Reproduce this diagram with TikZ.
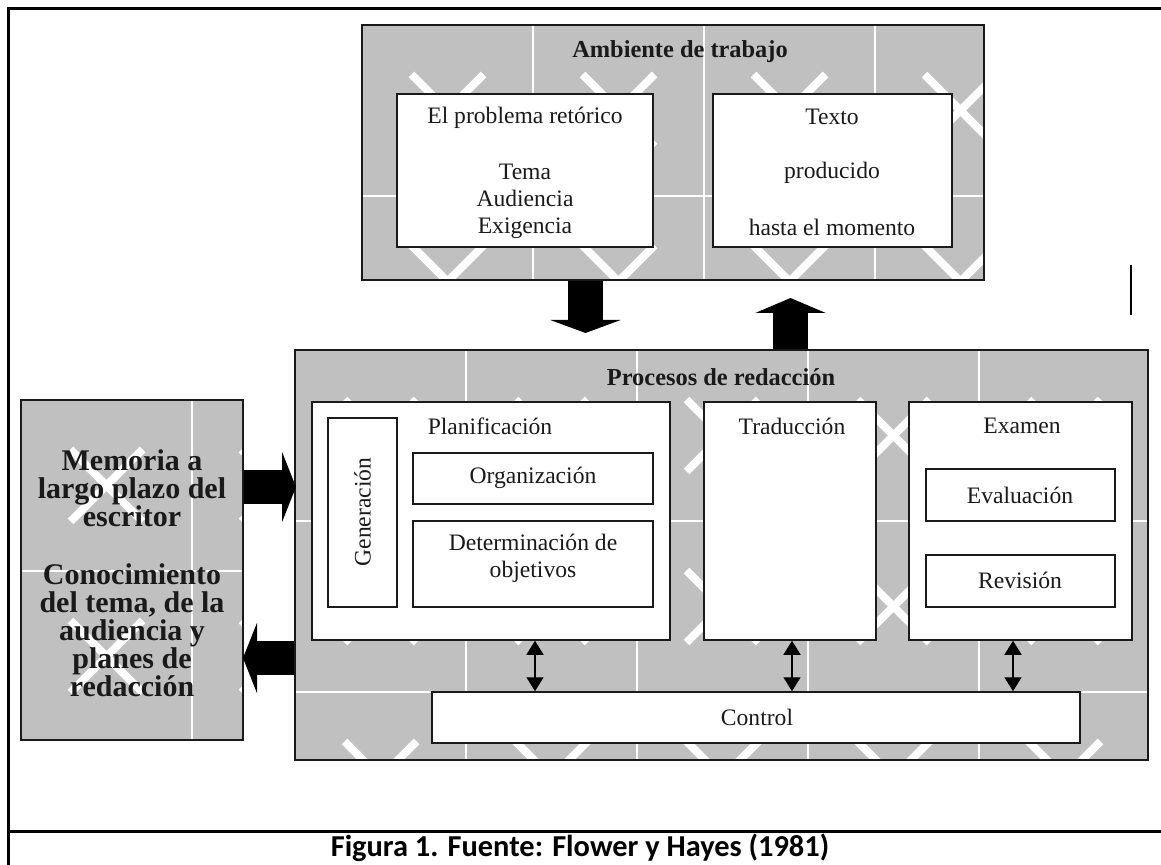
\documentclass[tikz,border=0pt]{standalone}
\usepackage{fontspec}
\setmainfont{Liberation Serif}
\newfontfamily\capfont{Carlito}
\usetikzlibrary{arrows.meta,fit,calc}
\definecolor{patgray}{HTML}{C0C0C0}
\definecolor{ink}{HTML}{1A1A1A}
\newcommand{\patfill}[4]{%
 \begin{scope}
 \clip (#1,#2) rectangle (#3,#4);
 \fill[patgray] (#1,#2) rectangle (#3,#4);
 \foreach \i in {0,...,5}{
   \foreach \j in {0,...,2}{
     \pgfmathsetmacro\cx{#1+171*\i+85.5}
     \pgfmathsetmacro\cy{#2+171*\j+85.5}
     \draw[xline] (\cx-36,\cy-36) -- (\cx+36,\cy+36);
     \draw[xline] (\cx-36,\cy+36) -- (\cx+36,\cy-36);
   }
   \draw[gline] ({#1+171*\i},#2) -- ({#1+171*\i},#4);
 }
 \foreach \j in {1,2}{\draw[gline] (#1,{#2+171*\j}) -- (#3,{#2+171*\j});}
 \end{scope}}
\begin{document}
\begin{tikzpicture}[x=0.5pt,y=-0.5pt,
  wbox/.style={draw=ink, line width=0.75pt, fill=white, inner sep=0pt},
  pbox/.style={draw=ink, line width=0.75pt, inner sep=0pt},
  xline/.style={white, line width=4pt},
  gline/.style={white, line width=1pt},
  txt/.style={inner sep=0pt, text=ink, font=\fontsize{11.8}{13.5}\selectfont, align=center},
  ttl/.style={inner sep=0pt, text=ink, font=\fontsize{12.2}{14}\selectfont\bfseries},
  ltxt/.style={inner sep=0pt, text=ink, font=\fontsize{15}{14}\selectfont\bfseries, align=center},
  blockdown/.style={line width=17.5pt, draw=black, -{Triangle[length=6.5pt,width=35pt]}},
  blockup/.style={line width=17.5pt, draw=black, -{Triangle[length=7.5pt,width=35pt]}},
  blockside/.style={line width=17pt, draw=black, -{Triangle[length=7pt,width=35pt]}},
  dbl/.style={line width=0.7pt, draw=black, {Triangle[length=7pt,width=8.5pt]}-{Triangle[length=7pt,width=8.5pt]}},
  frame/.style={line width=1.5pt, draw=black}]

\useasboundingbox (0,0) rectangle (1161,865);

% outer frame
\coordinate (fTL) at (8,9); \coordinate (fTR) at (1161,9);
\coordinate (fBL) at (8,865);
\coordinate (cL) at (8,831); \coordinate (cR) at (1161,831);
\draw[frame] (fTR) -- (fTL) -- (fBL);
\draw[frame] (cL) -- (cR);

% ---------- Ambiente de trabajo ----------
\patfill{362}{25}{984}{280}
\node[pbox, fit={(362,25) (984,280)}] (T) {};
\node[ttl] (Tt) at (680,52) {Ambiente de trabajo};
\node[wbox, fit={(397,94) (653,247)}] (A) {};
\node[txt] (At) at (525,118) {El problema retórico};
\node[txt] (Al) at (525,201) {Tema\\Audiencia\\Exigencia};
\node[wbox, fit={(713,94) (952,247)}] (B) {};
\node[txt] (Bt1) at (832,117) {Texto};
\node[txt] (Bt2) at (832,173) {producido};
\node[txt] (Bt3) at (832,227) {hasta el momento};

% ---------- Memoria ----------
\patfill{21}{400}{243}{740}
\node[pbox, fit={(21,400) (243,740)}] (L) {};
\node[ltxt] (Lt1) at (132,488) {Memoria a\\largo plazo del\\escritor};
\node[ltxt] (Lt2) at (132,630) {Conocimiento\\del tema, de la\\audiencia y\\planes de\\redacción};

% ---------- Procesos de redacción ----------
\patfill{295}{350}{1148}{760}
\node[pbox, fit={(295,350) (1148,760)}] (P) {};
\node[ttl] (Pt) at (721,377) {Procesos de redacción};

\node[wbox, fit={(312,402) (670,640)}] (Plan) {};
\node[txt] (Plant) at (490,426) {Planificación};
\node[wbox, fit={(328,418) (397,607)}] (Gen) {};
\node[txt, rotate=90] (Gent) at (362.5,512) {Generación};
\node[wbox, fit={(413,453) (653,504)}] (Org) {};
\node[txt] (Orgt) at (533,478) {Organización};
\node[wbox, fit={(413,521) (653,607)}] (Det) {};
\node[txt] (Dett) at (533,558) {Determinación de\\objetivos};

\node[wbox, fit={(704,402) (876,640)}] (Trad) {};
\node[txt] (Tradt) at (792,426) {Traducción};

\node[wbox, fit={(909,402) (1132,640)}] (Exam) {};
\node[txt] (Examt) at (1022,426) {Examen};
\node[wbox, fit={(926,469) (1115,521)}] (Eval) {};
\node[txt] (Evalt) at (1020,495) {Evaluación};
\node[wbox, fit={(926,555) (1115,607)}] (Rev) {};
\node[txt] (Revt) at (1020,580) {Revisión};

\node[wbox, fit={(432,692) (1080,743)}] (Ctrl) {};
\node[txt] (Ctrlt) at (757,717) {Control};

% ---------- small double arrows ----------
\coordinate (k1) at (535,0);
\coordinate (k2) at (792,0);
\coordinate (k3) at (1013,0);
\draw[dbl] (Plan.south -| k1) -- (Ctrl.north -| k1);
\draw[dbl] (Trad.south -| k2) -- (Ctrl.north -| k2);
\draw[dbl] (Exam.south -| k3) -- (Ctrl.north -| k3);

% ---------- block arrows ----------
\coordinate (dtip) at (585.5,333);
\draw[blockdown] (T.south -| dtip) -- (dtip);
\coordinate (utip) at (790.5,298);
\draw[blockup] (P.north -| utip) -- (utip);
\coordinate (rtip) at (296,487);
\draw[blockside] (L.east |- rtip) -- (rtip);
\coordinate (ltip) at (243,658);
\draw[blockside] (P.west |- ltip) -- (ltip);

% ---------- stray mark ----------
\coordinate (v1) at (1131,265); \coordinate (v2) at (1131,315);
\draw[line width=0.6pt, black] (v1) -- (v2);

% ---------- caption ----------
\node[inner sep=0pt, text=black, font=\capfont\bfseries\fontsize{15.2}{17}\selectfont] (cap) at (580,848) {Figura 1. Fuente: Flower y Hayes (1981)};
\end{tikzpicture}
\end{document}
